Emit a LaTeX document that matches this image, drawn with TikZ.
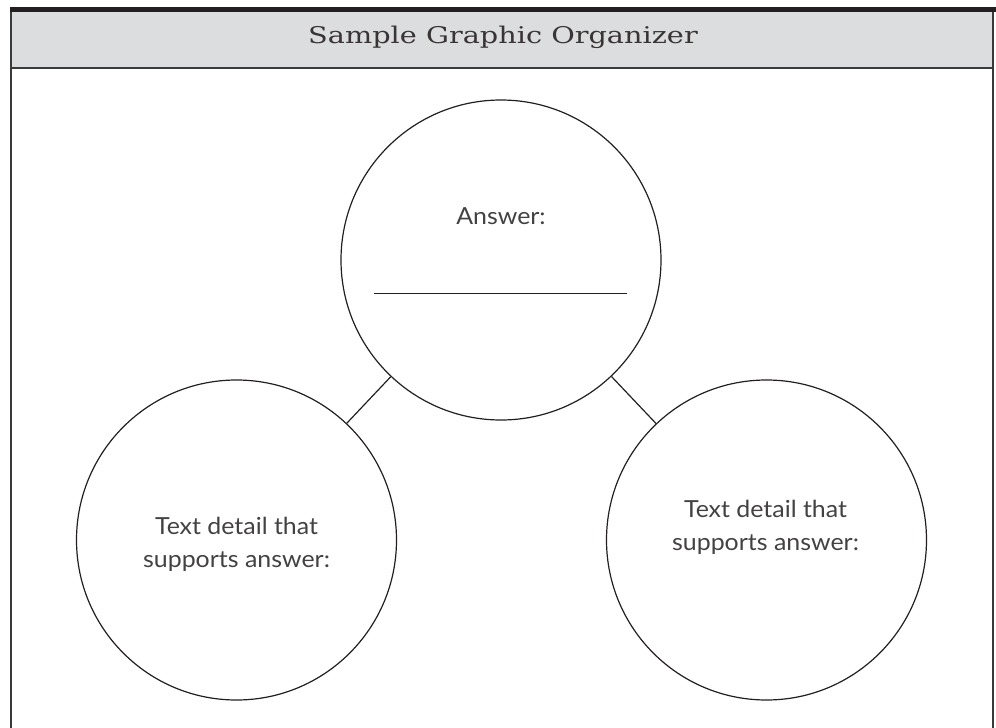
\documentclass[tikz,border=0pt]{standalone}
\usepackage{fontspec}
\setmainfont{Lato}[FakeStretch=1.06]
\newfontfamily\titlefont{DejaVu Serif}[FakeStretch=1.25]
\definecolor{headgray}{HTML}{DCDDDE}
\definecolor{ink}{HTML}{231F20}
\definecolor{framegray}{HTML}{3A3A3A}
\tikzset{
  frameline/.style={draw=framegray, line width=1.4pt},
  bubble/.style={circle, draw=ink, line width=1.2pt, minimum size=320pt, inner sep=0pt},
  link/.style={draw=ink, line width=1.2pt},
  hand/.style={text=ink!85, font=\fontsize{23.5}{33}\selectfont, align=center, inner sep=0pt},
  titletext/.style={text=ink!90, font=\titlefont\fontsize{23}{26}\selectfont, inner sep=0pt}
}
\begin{document}
\begin{tikzpicture}[x=1pt,y=-1pt]
\useasboundingbox (0,0) rectangle (996,728);
% header
\fill[headgray] (11,12) rectangle (993,68);
\fill[ink] (10,7) rectangle (996,12);
\draw[frameline] (11,12) -- (11,728);
\draw[frameline] (993,12) -- (993,728);
\draw[frameline] (11,68) -- (993,68);
\node[titletext, anchor=base] (title) at (503,43.5) {Sample Graphic Organizer};
% circles
\node[bubble] (ans) at (501,260) {};
\node[bubble] (left) at (236.5,540) {};
\node[bubble] (right) at (766.5,540) {};
\draw[link] (ans) -- (left);
\draw[link] (ans) -- (right);
% texts
\node[hand, anchor=base] (anslabel) at (501,224) {Answer:};
\coordinate (lineA) at (374,293);
\coordinate (lineB) at (627,293);
\draw[link, line width=1pt] (lineA) -- (lineB);
\node[hand, anchor=base] (ltext) at (236.5,567) {Text detail that\\supports answer:};
\node[hand, anchor=base] (rtext) at (765.5,550) {Text detail that\\supports answer:};
\end{tikzpicture}
\end{document}
